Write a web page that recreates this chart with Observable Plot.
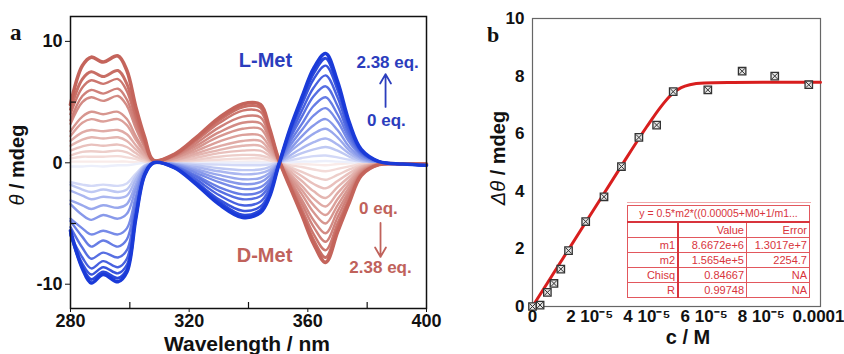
<!DOCTYPE html>
<html><head><meta charset="utf-8">
<script src="https://cdn.jsdelivr.net/npm/d3@7"></script>
<script src="https://cdn.jsdelivr.net/npm/@observablehq/plot@0.6"></script>
<style>
body{margin:0;background:#fff;font-family:Arial,"Liberation Sans",sans-serif;}
#wrap{position:relative;width:844px;height:354px;overflow:hidden;background:#fff;}
#wrap > *{position:absolute;}
#fit{border-collapse:collapse;font:11px Arial,"Liberation Sans",sans-serif;color:#d8343c;background:#fff;}
#fit td{border:1px solid #e2575d;padding:0 2px;text-align:right;height:14px;line-height:13px;white-space:nowrap;}
#fit td.c0{border-right:2px solid #d8343c;}
#fit tr.title td{text-align:center;border-bottom:2px solid #d8343c;height:15px;font-size:10.5px;}
</style></head><body><div id="wrap"></div>
<script>
// ---------- Panel a : CD titration spectra ----------
const wavelengths = [280,284,287,291,296,299,302,305,308,315,322,330,338,344,347,350,354,358,362,366,370,374,378,384,392,400];
// L-Met series (blue), darkest (2.38 eq.) first, lightest (0 eq.) last
const lMet = [
  [-5.6,-8.7,-9.9,-9.2,-9.8,-9.0,-4.6,-1.0,0.0,-0.4,-1.7,-3.4,-4.5,-4.1,-2.85,-0.35,2.8,5.4,7.8,9.0,6.7,3.3,1.1,0.1,-0.1,-0.2],
  [-5.8,-8.6,-9.6,-9.0,-9.5,-8.8,-4.5,-1.0,0.0,-0.4,-1.6,-3.2,-4.3,-3.9,-2.7,-0.3,2.7,5.2,7.4,8.6,6.4,3.2,1.0,0.1,-0.1,-0.2],
  [-5.9,-8.3,-9.2,-8.6,-9.1,-8.4,-4.3,-0.9,0.0,-0.35,-1.5,-3.0,-3.95,-3.6,-2.5,-0.3,2.5,4.8,6.9,8.0,6.0,2.9,1.0,0.1,-0.1,-0.2],
  [-6.0,-7.8,-8.7,-8.1,-8.6,-7.9,-4.0,-0.9,0.0,-0.3,-1.3,-2.65,-3.5,-3.2,-2.2,-0.25,2.2,4.3,6.2,7.2,5.4,2.6,0.9,0.1,-0.1,-0.2],
  [-5.3,-7.0,-7.9,-7.4,-7.8,-7.2,-3.7,-0.8,0.0,-0.3,-1.1,-2.3,-3.0,-2.75,-1.9,-0.2,2.0,3.8,5.5,6.3,4.7,2.3,0.8,0.1,-0.1,-0.2],
  [-4.8,-6.1,-6.9,-6.4,-6.9,-6.3,-3.2,-0.7,0.0,-0.25,-1.0,-2.0,-2.6,-2.4,-1.65,-0.2,1.7,3.2,4.7,5.4,4.0,2.0,0.7,0.05,-0.1,-0.2],
  [-4.6,-5.4,-5.9,-5.6,-5.9,-5.4,-2.8,-0.6,0.0,-0.2,-0.8,-1.6,-2.15,-2.0,-1.4,-0.15,1.4,2.7,3.9,4.5,3.4,1.7,0.6,0.05,-0.1,-0.2],
  [-3.4,-4.3,-4.7,-4.3,-4.6,-4.2,-2.2,-0.5,0.0,-0.15,-0.65,-1.3,-1.75,-1.6,-1.1,-0.1,1.1,2.2,3.1,3.6,2.7,1.3,0.45,0.05,-0.1,-0.2],
  [-3.1,-3.5,-3.8,-3.5,-3.7,-3.4,-1.8,-0.4,0.0,-0.1,-0.5,-1.0,-1.35,-1.25,-0.85,-0.1,0.9,1.7,2.4,2.8,2.1,1.0,0.35,0.0,-0.1,-0.2],
  [-2.3,-2.7,-3.0,-2.8,-2.9,-2.7,-1.4,-0.3,0.0,-0.1,-0.35,-0.7,-0.95,-0.85,-0.6,-0.05,0.6,1.2,1.7,2.0,1.5,0.75,0.25,0.0,-0.1,-0.2],
  [-1.8,-2.2,-2.4,-2.2,-2.4,-2.2,-1.1,-0.25,0.0,-0.05,-0.2,-0.45,-0.6,-0.55,-0.35,0.0,0.4,0.8,1.1,1.3,1.0,0.5,0.15,0.0,-0.1,-0.2],
  [-1.6,-1.8,-1.9,-1.8,-1.9,-1.7,-0.9,-0.2,0.0,0.0,-0.1,-0.15,-0.2,-0.2,-0.15,0.0,0.2,0.4,0.55,0.6,0.45,0.25,0.1,0.0,-0.1,-0.2],
  [-0.3,-0.3,-0.25,-0.3,-0.2,-0.2,-0.1,0.0,0.0,0.0,0.0,0.0,0.0,0.0,0.0,0.0,0.05,0.1,0.1,0.15,0.1,0.05,0.0,0.0,-0.1,-0.15]
];
// D-Met series (red), darkest (2.38 eq.) first, lightest (0 eq.) last
const dMet = [
  [4.8,8.0,8.7,8.3,8.8,7.6,4.6,2.1,0.2,0.7,2.0,3.7,4.85,4.8,2.9,0.4,-2.0,-4.3,-6.7,-8.2,-5.7,-3.25,-1.05,-0.15,-0.1,-0.1],
  [4.4,6.9,7.5,7.1,7.6,6.5,4.0,1.8,0.2,0.65,1.9,3.5,4.6,4.55,2.75,0.4,-1.9,-4.1,-6.4,-7.8,-5.4,-3.1,-1.0,-0.15,-0.1,-0.1],
  [4.0,6.2,6.8,6.5,6.9,5.9,3.6,1.6,0.2,0.6,1.75,3.25,4.3,4.2,2.55,0.35,-1.75,-3.8,-5.9,-7.2,-5.0,-2.85,-0.9,-0.15,-0.1,-0.1],
  [3.5,5.5,6.0,5.7,6.1,5.2,3.2,1.45,0.15,0.55,1.55,2.9,3.8,3.75,2.25,0.3,-1.6,-3.4,-5.3,-6.5,-4.5,-2.55,-0.85,-0.1,-0.1,-0.1],
  [3.2,5.0,5.4,5.1,5.5,4.7,2.85,1.3,0.15,0.5,1.35,2.5,3.3,3.25,2.0,0.25,-1.4,-3.05,-4.75,-5.8,-4.0,-2.3,-0.75,-0.1,-0.1,-0.1],
  [2.6,3.8,4.2,4.0,4.2,3.6,2.2,1.0,0.1,0.4,1.15,2.15,2.8,2.8,1.7,0.2,-1.2,-2.6,-4.1,-5.0,-3.5,-2.0,-0.65,-0.1,-0.1,-0.1],
  [2.2,3.3,3.6,3.4,3.6,3.1,1.9,0.85,0.1,0.35,0.95,1.75,2.3,2.25,1.35,0.2,-1.05,-2.25,-3.5,-4.3,-3.0,-1.7,-0.55,-0.1,-0.1,-0.1],
  [1.8,2.5,2.7,2.6,2.7,2.35,1.45,0.65,0.1,0.25,0.75,1.35,1.8,1.8,1.05,0.15,-0.9,-1.9,-2.95,-3.6,-2.5,-1.45,-0.45,-0.05,-0.1,-0.1],
  [1.4,1.9,2.1,2.0,2.1,1.8,1.1,0.5,0.05,0.2,0.6,1.05,1.4,1.4,0.85,0.1,-0.7,-1.5,-2.35,-2.9,-2.0,-1.15,-0.35,-0.05,-0.1,-0.1],
  [1.0,1.35,1.5,1.4,1.5,1.3,0.8,0.35,0.05,0.15,0.4,0.8,1.0,1.0,0.6,0.1,-0.5,-1.1,-1.75,-2.1,-1.5,-0.85,-0.3,-0.05,-0.1,-0.1],
  [0.6,0.9,0.95,0.9,1.0,0.85,0.5,0.25,0.0,0.1,0.25,0.5,0.65,0.6,0.4,0.05,-0.35,-0.75,-1.15,-1.4,-1.0,-0.55,-0.2,0.0,-0.1,-0.1],
  [0.35,0.5,0.5,0.5,0.55,0.45,0.3,0.1,0.0,0.05,0.15,0.25,0.35,0.35,0.2,0.0,-0.2,-0.35,-0.55,-0.7,-0.5,-0.3,-0.1,0.0,-0.1,-0.1],
  [0.1,0.1,0.1,0.1,0.1,0.1,0.05,0.0,0.0,0.0,0.05,0.05,0.1,0.1,0.05,0.0,-0.05,-0.1,-0.15,-0.2,-0.1,-0.05,0.0,0.0,-0.05,-0.1]
];
const xTicksA = [280,320,360,400];
const xMinorA = [300,340,380];
const yTicksA = [-10,0,10];
const yMinorA = [-5,5];
const annoA = [
  {x:345.7, y:8.39, text:"L-Met", s:"L", size:20},
  {x:386.9, y:8.22, text:"2.38 eq.", s:"L", size:17},
  {x:386.5, y:3.48, text:"0 eq.", s:"L", size:17},
  {x:345.4, y:-7.68, text:"D-Met", s:"D", size:20},
  {x:383.8, y:-3.8, text:"0 eq.", s:"D", size:17},
  {x:384.5, y:-8.62, text:"2.38 eq.", s:"D", size:17}
];
const arrowsA = [
  {x:386.2, y1:4.6, y2:7.3, s:"L"},
  {x:384.5, y1:-4.95, y2:-7.75, s:"D"}
];

// ---------- Panel b : titration fit ----------
const concM  = [0, 2.65e-6, 5.2e-6, 7.5e-6, 9.9e-6, 12.6e-6, 18.6e-6, 25e-6, 31.1e-6, 37.2e-6, 43.4e-6, 49.2e-6, 61.3e-6, 73.3e-6, 84.7e-6, 96.6e-6];
const dTheta = [0.0, 0.05, 0.49, 0.8, 1.3, 1.94, 2.95, 3.81, 4.86, 5.87, 6.3, 7.46, 7.52, 8.17, 8.0, 7.7];
const fitC = [0, 10e-6, 20e-6, 30e-6, 40e-6, 45e-6, 48e-6, 50e-6, 52e-6, 55e-6, 60e-6, 70e-6, 85e-6, 100.7e-6];
const fitY = [0, 1.57, 3.14, 4.71, 6.25, 6.95, 7.3, 7.48, 7.6, 7.7, 7.76, 7.78, 7.79, 7.79];
const xTicksB = [0, 2e-5, 4e-5, 6e-5, 8e-5, 1e-4];
const xTickLabelsB = ["0", "2 10⁻⁵", "4 10⁻⁵", "6 10⁻⁵", "8 10⁻⁵", "0.0001"];
const yTicksB = [0,2,4,6,8,10];
const fitTitle = "y = 0.5*m2*((0.00005+M0+1/m1...";
const fitHeader = ["", "Value", "Error"];
const fitRows = [
  ["m1", "8.6672e+6", "1.3017e+7"],
  ["m2", "1.5654e+5", "2254.7"],
  ["Chisq", "0.84667", "NA"],
  ["R", "0.99748", "NA"]
];

// ---------- styles ----------
const BLUE_DARK = "#1a3ad8", BLUE_LIGHT = "#eceffb";
const RED_DARK = "#c4645b", RED_LIGHT = "#f9ebe9";
const LABEL_COLOR = {L:"#2b3dbd", D:"#c0625b"};
const FONT = "Arial, 'Liberation Sans', sans-serif";

const wrap = document.getElementById("wrap");

// Panel a
const nLev = lMet.length;
const lineMarks = [];
for (let i = nLev - 1; i >= 0; --i) {
  const t = Math.pow(1 - i / (nLev - 1), 0.85);
  const sw = i === 0 ? 3.6 : i === 1 ? 3.0 : 2.4;
  const dRows = wavelengths.map((w, k) => ({w, v: dMet[i][k]}));
  const lRows = wavelengths.map((w, k) => ({w, v: lMet[i][k]}));
  lineMarks.push(Plot.line(dRows, {x:"w", y:"v", stroke: d3.interpolateRgb(RED_LIGHT, RED_DARK)(t), strokeWidth: sw, curve:"catmull-rom"}));
  lineMarks.push(Plot.line(lRows, {x:"w", y:"v", stroke: d3.interpolateRgb(BLUE_LIGHT, BLUE_DARK)(t), strokeWidth: sw, curve:"catmull-rom"}));
}
const plotA = Plot.plot({
  width:440, height:354, marginLeft:70, marginRight:14, marginTop:16, marginBottom:46,
  style:{fontFamily:FONT, background:"transparent", overflow:"visible"},
  x:{domain:[280,400]},
  y:{domain:[-12,12.05]},
  marks:[
    ...lineMarks,
    Plot.frame({stroke:"#111", strokeWidth:1.5}),
    Plot.tickX(xMinorA, {x:d=>d, insetTop:286, stroke:"#111", strokeWidth:1.2}),
    Plot.tickY(yMinorA, {y:d=>d, insetRight:350, stroke:"#111", strokeWidth:1.2}),
    Plot.axisX({ticks:xTicksA, tickSize:4, tickPadding:2, fontSize:18, fontWeight:"bold", label:null, tickFormat:d=>String(d), stroke:"#111", fill:"#111"}),
    Plot.axisY({ticks:yTicksA, tickSize:5, tickPadding:3, fontSize:18, fontWeight:"bold", label:null, tickFormat:d=>String(d), stroke:"#111", fill:"#111"}),
    Plot.arrow(arrowsA, {x1:"x", y1:"y1", x2:"x", y2:"y2", stroke:d=>LABEL_COLOR[d.s], strokeWidth:1.8, headLength:9}),
    Plot.text(annoA.filter(d=>d.size===20), {x:"x", y:"y", text:"text", fill:d=>LABEL_COLOR[d.s], fontSize:20, fontWeight:"bold"}),
    Plot.text(annoA.filter(d=>d.size===17), {x:"x", y:"y", text:"text", fill:d=>LABEL_COLOR[d.s], fontSize:17, fontWeight:"bold"})
  ]
});
plotA.style.left = "0px"; plotA.style.top = "0px";
wrap.appendChild(plotA);

// Panel b
const pts = concM.map((c, i) => ({c, y: dTheta[i]}));
const fit = fitC.map((c, i) => ({c, y: fitY[i]}));
const plotB = Plot.plot({
  width:364, height:354, marginLeft:52, marginRight:24, marginTop:18, marginBottom:48,
  style:{fontFamily:FONT, background:"transparent", overflow:"visible"},
  x:{domain:[0, 1.007e-4]},
  y:{domain:[0,10]},
  marks:[
    Plot.frame({stroke:"#666", strokeWidth:1.2}),
    Plot.line(fit, {x:"c", y:"y", stroke:"#d81e1e", strokeWidth:3, curve:"monotone-x"}),
    Plot.dot(pts, {x:"c", y:"y", symbol:"square", r:4.2, stroke:"#333", fill:"#e4e4e4", strokeWidth:1.3}),
    Plot.dot(pts, {x:"c", y:"y", symbol:"times", r:2.8, stroke:"#333", strokeWidth:1}),
    Plot.axisX({ticks:xTicksB, tickSize:0, tickPadding:3, fontSize:17, fontWeight:"bold", label:null, fill:"#111",
      tickFormat:d=>xTickLabelsB[xTicksB.indexOf(d)]}),
    Plot.axisY({ticks:yTicksB, tickSize:0, tickPadding:8, fontSize:17, fontWeight:"bold", label:null, fill:"#111",
      tickFormat:d=>String(d)})
  ]
});
plotB.style.left = "480px"; plotB.style.top = "0px";
wrap.appendChild(plotB);

// Fit table inset
const table = document.createElement("table");
table.id = "fit";
table.style.left = "627px"; table.style.top = "205px"; table.style.width = "183px";
let html = `<tr class="title"><td colspan="3">${fitTitle}</td></tr>`;
html += `<tr><td class="c0" style="width:45px">${fitHeader[0]}</td><td style="width:63px">${fitHeader[1]}</td><td>${fitHeader[2]}</td></tr>`;
for (const r of fitRows) html += `<tr><td class="c0">${r[0]}</td><td>${r[1]}</td><td>${r[2]}</td></tr>`;
table.innerHTML = html;
wrap.appendChild(table);
const topLine = document.createElement("div");
topLine.style.cssText = "left:627px;top:202px;width:184px;height:1px;background:#f0a8aa;";
wrap.appendChild(topLine);

// Titles and panel letters (overlay svg)
const ns = "http://www.w3.org/2000/svg";
const ov = document.createElementNS(ns, "svg");
ov.setAttribute("width", 844); ov.setAttribute("height", 354);
ov.style.left = "0px"; ov.style.top = "0px"; ov.style.pointerEvents = "none";
ov.innerHTML = `
<g font-family="${FONT}" font-weight="bold" fill="#111">
  <text x="247" y="351" font-size="21" text-anchor="middle">Wavelength / nm</text>
  <text x="688" y="344" font-size="20" text-anchor="middle">c / M</text>
  <text transform="translate(24,165) rotate(-90)" font-size="20" text-anchor="middle"><tspan font-style="italic" font-weight="normal">θ</tspan> / mdeg</text>
  <text transform="translate(505,158) rotate(-90)" font-size="20" text-anchor="middle"><tspan font-style="italic" font-weight="normal">Δθ</tspan> / mdeg</text>
</g>
<g font-family="'Liberation Serif','Times New Roman',serif" font-weight="bold" fill="#111">
  <text x="10" y="40" font-size="23">a</text>
  <text x="487" y="41.5" font-size="22">b</text>
</g>`;
wrap.appendChild(ov);
</script></body></html>
